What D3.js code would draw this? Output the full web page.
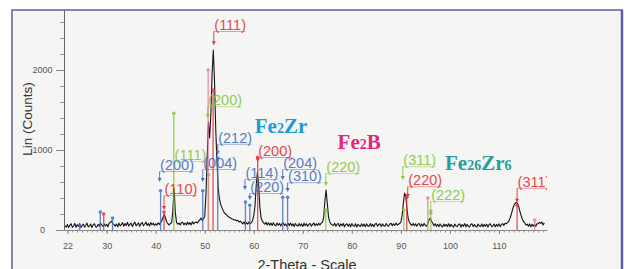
<!DOCTYPE html>
<html>
<head>
<meta charset="utf-8">
<script src="https://cdn.jsdelivr.net/npm/d3@7"></script>
<style>
  body { margin: 0; background: #fff; }
  svg { display: block; font-family: "Liberation Sans", Arial, sans-serif; }
</style>
</head>
<body>
<div id="chart"></div>
<script>
// scan: start angle and step size (2-theta), then counts
const START = 21.5, STEP = 0.25;
const counts = [
  52, 35, 70, 30, 62, 78, 32, 50,      // 21.5
  82, 34, 66, 44, 80, 30, 58, 72,      // 23.5
  36, 60, 86, 38, 52, 74, 30, 64,      // 25.5
  78, 42, 36, 70, 50, 88, 62, 44,      // 27.5
  76, 50, 72, 40, 84, 95, 110, 80,     // 29.5
  70, 48, 74, 40, 86, 52, 66, 92,      // 31.5
  46, 80, 58, 96, 50, 72, 84, 42,      // 33.5
  76, 98, 52, 70, 88, 46, 80, 94,      // 35.5
  54, 72, 100, 58, 82, 50, 92, 66,     // 37.5
  84, 55, 78, 60, 90, 68, 92, 115,     // 39.5
  160, 195, 150, 100, 80, 62, 82, 90,  // 41.5
  240, 520, 220, 95, 72, 86, 64, 90,   // 43.5
  96, 66, 88, 62, 100, 70, 92, 64,     // 45.5
  104, 76, 96, 100, 88, 112, 125, 150, // 47.5
  120, 140, 170, 450, 900, 1350, 1150, 1450, // 49.5
  1950, 2250, 1850, 1250, 850, 520, 390, 320, // 51.5
  280, 245, 215, 200, 185, 172, 160, 150,     // 53.5
  142, 135, 124, 128, 116, 122, 98, 112,      // 55.5
  96, 76, 102, 70, 94, 74, 98, 80,     // 57.5
  90, 120, 180, 300, 560, 720, 560, 280, // 59.5
  150, 110, 90, 72, 96, 62, 90, 58,    // 61.5
  86, 56, 92, 62, 52, 88, 60, 82,      // 63.5
  50, 78, 90, 56, 76, 48, 84, 56,      // 65.5
  88, 52, 76, 44, 82, 60, 48, 80,      // 67.5
  50, 76, 44, 84, 54, 78, 46, 72,      // 69.5
  80, 48, 70, 88, 52, 78, 58, 84,      // 71.5
  62, 88, 95, 150, 360, 500, 330, 160, // 73.5
  100, 76, 62, 56, 84, 48, 72, 80,     // 75.5
  44, 76, 54, 82, 40, 70, 78, 46,      // 77.5
  74, 40, 80, 52, 48, 78, 38, 70,      // 79.5
  56, 44, 78, 48, 74, 40, 76, 52,      // 81.5
  44, 80, 48, 72, 40, 74, 82, 46,      // 83.5
  70, 78, 42, 76, 52, 46, 80, 56,      // 85.5
  48, 74, 84, 52, 78, 56, 86, 62,      // 87.5
  72, 80, 100, 180, 330, 460, 420, 260, // 89.5
  140, 95, 72, 58, 82, 52, 78, 48,     // 91.5
  74, 80, 45, 76, 50, 82, 56, 48,      // 93.5
  80, 130, 150, 110, 85, 52, 78, 46,   // 95.5
  72, 42, 76, 50, 38, 74, 48, 70,      // 97.5
  44, 78, 40, 72, 48, 36, 74, 52,      // 99.5
  42, 70, 76, 38, 68, 45, 80, 40,      // 101.5
  72, 48, 36, 70, 78, 42, 68, 46,      // 103.5
  38, 74, 50, 44, 76, 40, 70, 47,      // 105.5
  72, 36, 68, 78, 42, 50, 74, 40,      // 107.5
  70, 46, 76, 42, 68, 80, 58, 85,      // 109.5
  78, 92, 110, 145, 190, 250, 300, 330, // 111.5
  345, 335, 300, 240, 185, 140, 105, 88, // 113.5
  62, 74, 46, 76, 40, 70, 48, 74,      // 115.5
  44, 78, 80, 95, 82, 100, 62, 92      // 117.5
];

const xTicks = [22, 30, 40, 50, 60, 70, 80, 90, 100, 110];
const yTicks = [0, 1000, 2000];

// reference sticks [2-theta, counts]
const blueSticks = [[24.5, 60], [28.7, 225], [31.2, 150], [41.0, 490], [49.6, 490],
  [52.65, 900], [58.3, 350], [59.2, 310], [65.9, 410], [66.9, 410]];
const redSticks = [[29.4, 200], [41.7, 225], [51.7, 1750], [60.8, 910], [91.2, 410], [113.7, 310]];
const pinkSticks = [[50.7, 2000], [95.5, 400], [117.3, 125]];
const greenSticks = [[43.7, 1460], [50.8, 690], [74.7, 250], [90.6, 250], [96.1, 210]];

// hkl labels [text, colour key, arrow angle, label counts, arrow tip counts]
const labels = [
  ["(111)", "red", 51.85, 2500, 2310],
  ["(200)", "green", 50.6, 1560, 1400],
  ["(212)", "blue", 52.65, 1090, 940],
  ["(200)", "blue", 40.8, 750, 600],
  ["(110)", "red", 41.7, 450, 250],
  ["(111)", "green", 43.75, 875, 875],
  ["(004)", "blue", 49.6, 775, 600],
  ["(114)", "blue", 58.2, 650, 500],
  ["(220)", "blue", 59.2, 475, 375],
  ["(200)", "red", 60.8, 925, 850],
  ["(204)", "blue", 65.9, 775, 625],
  ["(310)", "blue", 66.9, 610, 475],
  ["(220)", "green", 74.7, 725, 550],
  ["(311)", "green", 90.4, 810, 625],
  ["(220)", "red", 91.4, 560, 400],
  ["(222)", "green", 96.1, 375, 200],
  ["(311)", "red", 113.7, 540, 340]
];

// phase names [name, colour, angle, counts]
const phases = [
  ["Fe2Zr", "#1e9bd7", 60.2, 1210],
  ["Fe2B", "#e5267f", 77.1, 1010],
  ["Fe26Zr6", "#2b9c98", 99.0, 750]
];

const colours = { blue: "#4a70c2", red: "#e2343c", pink: "#e97aa2", green: "#8cc63e" };

const W = 626, H = 269;
const svg = d3.select("#chart").append("svg")
  .attr("width", W).attr("height", H);

const x = d3.scaleLinear().domain([21.3, 119.8]).range([64, 547]);
const y = d3.scaleLinear().domain([0, 2750]).range([230, 10]);

// frame
svg.append("rect")
  .attr("x", 12).attr("y", 10).attr("width", 610).attr("height", 290)
  .attr("fill", "#f5f5f3").attr("stroke", "#5d5f9e").attr("stroke-width", 1.5);
svg.append("line")
  .attr("x1", 622).attr("x2", 622).attr("y1", 10).attr("y2", H)
  .attr("stroke", "#5d5f9e").attr("stroke-width", 2.5);

svg.append("defs").append("clipPath").attr("id", "plotClip")
  .append("rect").attr("x", 64).attr("y", 0).attr("width", 483).attr("height", 230);

// axes
const xMinor = svg.append("g").attr("transform", "translate(0,230)")
  .call(d3.axisBottom(x).tickValues(d3.range(22, 120, 1)).tickSize(2.5).tickSizeOuter(0).tickFormat(""));
xMinor.select(".domain").remove();
xMinor.selectAll("line").attr("stroke", "#999");

const xAxis = svg.append("g").attr("transform", "translate(0,230)")
  .call(d3.axisBottom(x).tickValues(xTicks).tickSize(4).tickSizeOuter(0));
xAxis.select(".domain").attr("stroke", "#888");
xAxis.selectAll("line").attr("stroke", "#888");
xAxis.selectAll("text").attr("y", 13).style("font-size", "9px").attr("fill", "#555")
  .style("font-family", "'Liberation Sans', Arial, sans-serif");

const yMinor = svg.append("g").attr("transform", "translate(64,0)")
  .call(d3.axisLeft(y).tickValues(d3.range(0, 2751, 200)).tickSize(4).tickSizeOuter(0).tickFormat(""));
yMinor.select(".domain").remove();
yMinor.selectAll("line").attr("stroke", "#999");

const yAxis = svg.append("g").attr("transform", "translate(64,0)")
  .call(d3.axisLeft(y).tickValues(yTicks).tickSize(8).tickSizeOuter(0).tickFormat(d3.format("d")));
yAxis.select(".domain").attr("stroke", "#666");
yAxis.selectAll("line").attr("stroke", "#888");
yAxis.selectAll("text").attr("x", -21.5).attr("text-anchor", "middle")
  .style("font-size", "9px").attr("fill", "#555")
  .style("font-family", "'Liberation Sans', Arial, sans-serif");

// titles
svg.append("text")
  .attr("x", 307).attr("y", 270).attr("text-anchor", "middle")
  .style("font-size", "14.5px").attr("fill", "#333")
  .text("2-Theta - Scale");
svg.append("text")
  .attr("transform", "translate(32,119) rotate(-90)").attr("text-anchor", "middle")
  .style("font-size", "13.5px").attr("fill", "#333")
  .text("Lin (Counts)");

// scan
const line = d3.line()
  .x((d, i) => x(START + i * STEP))
  .y(d => y(d));
svg.append("path")
  .datum(counts)
  .attr("d", line)
  .attr("fill", "none")
  .attr("stroke", "#141414")
  .attr("stroke-width", 1.1)
  .attr("stroke-linejoin", "round");

// sticks
function drawSticks(data, colour) {
  const g = svg.append("g").attr("opacity", 0.85);
  g.selectAll("line").data(data).enter().append("line")
    .attr("x1", d => x(d[0])).attr("x2", d => x(d[0]))
    .attr("y1", y(0)).attr("y2", d => y(d[1]))
    .attr("stroke", colour).attr("stroke-width", 1.3);
  g.selectAll("circle").data(data).enter().append("circle")
    .attr("cx", d => x(d[0])).attr("cy", d => y(d[1])).attr("r", 1.8)
    .attr("fill", colour);
}
drawSticks(blueSticks, colours.blue);
drawSticks(greenSticks, colours.green);
drawSticks(pinkSticks, colours.pink);
drawSticks(redSticks, colours.red);

// hkl labels with arrows
const lg = svg.append("g").attr("clip-path", "url(#plotClip)");
labels.forEach(l => {
  const c = colours[l[1]];
  const ax = x(l[2]), by = y(l[3]), ty = y(l[4]);
  const t = lg.append("text")
    .attr("x", ax + 0.5).attr("y", by)
    .style("font-size", "14.5px").attr("fill", c).attr("opacity", 0.9)
    .text(l[0]);
  const w = t.node().getComputedTextLength();
  lg.append("line")
    .attr("x1", ax).attr("x2", ax + w).attr("y1", by + 1.5).attr("y2", by + 1.5)
    .attr("stroke", c).attr("stroke-width", 0.8).attr("opacity", 0.6);
  if (ty - by > 5) {
    lg.append("line")
      .attr("x1", ax).attr("x2", ax).attr("y1", by + 1.5).attr("y2", ty - 3)
      .attr("stroke", c).attr("stroke-width", 0.9);
    lg.append("path")
      .attr("d", `M${ax - 2},${ty - 4}L${ax + 2},${ty - 4}L${ax},${ty}Z`)
      .attr("fill", c);
  }
});

// phase names, digits set smaller
phases.forEach(p => {
  const t = svg.append("text")
    .attr("x", x(p[2])).attr("y", y(p[3]))
    .style("font-family", "'Liberation Serif', 'DejaVu Serif', serif")
    .style("font-weight", "bold").style("font-size", "21px")
    .attr("fill", p[1]);
  p[0].split(/(\d+)/).filter(s => s.length).forEach(s => {
    t.append("tspan").text(s)
      .style("font-size", /\d/.test(s) ? "14px" : "21px");
  });
});
</script>
</body>
</html>
